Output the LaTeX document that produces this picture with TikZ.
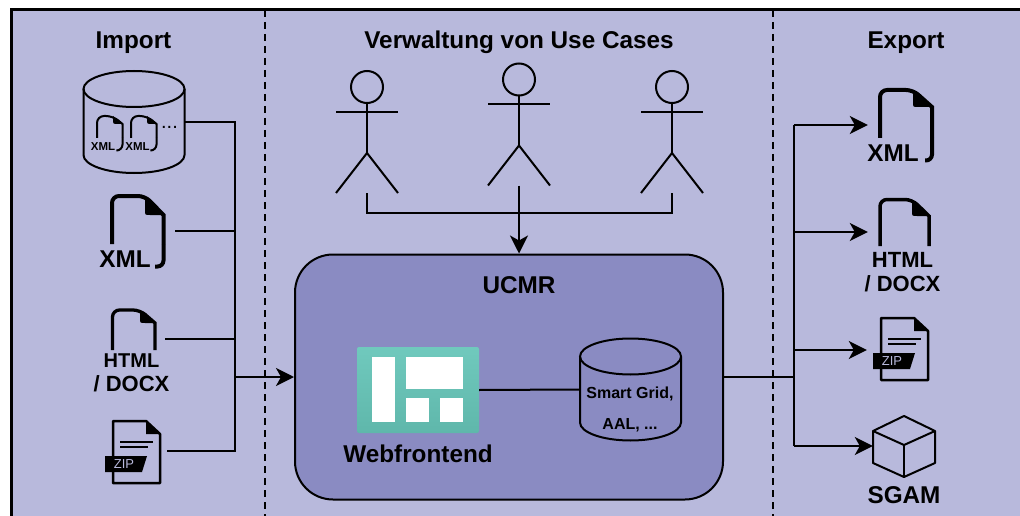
\documentclass[tikz,border=0pt]{standalone}
\usepackage{fontspec}
\setmainfont{Liberation Sans}
\usetikzlibrary{arrows.meta}
\definecolor{panelcol}{HTML}{B8B9DC}
\definecolor{corecol}{HTML}{8A8BC2}
\definecolor{tealtop}{HTML}{70C9BD}
\definecolor{tealbot}{HTML}{5FB7AB}
\tikzset{
  wire/.style={line width=2pt},
  arrowwire/.style={wire, -{Stealth[length=18pt,width=18pt,inset=5pt]}},
  divider/.style={line width=2pt, dash pattern=on 7pt off 5pt},
  iconbox/.style={inner sep=0pt, minimum height=60pt},
  titletext/.style={font=\fontsize{24.3}{28}\selectfont\bfseries, inner sep=0pt, text height=17pt, text depth=0pt},
  filetext/.style={font=\fontsize{22}{24}\selectfont\bfseries, inner sep=0pt, align=center},
}
\begin{document}
\begin{tikzpicture}[x=1pt, y=-1pt]
  \useasboundingbox (0,0) rectangle (1020,516);
  % Panel
  \fill[panelcol] (11,10) rectangle (1020,516);
  \draw[line width=3pt] (11,516) -- (11,10) -- (1020,10);
  \foreach \n/\x in {left/265, right/773} {
    \coordinate (top\n) at (\x,10);
    \coordinate (bot\n) at (\x,516);
    \draw[divider] (top\n) -- (bot\n);
  }
  % Titles
  \node[titletext] (importtitle) at (133.5,40) {Import};
  \node[titletext] (casetitle) at (519,40) {Verwaltung von Use Cases};
  \node[titletext] (exporttitle) at (906,40) {Export};
  % Actors
  \foreach \i/\x/\y in {1/367/87, 2/519/79.5, 3/672/87} {
    \node[circle, draw, wire, inner sep=0pt, minimum size=32pt] (head\i) at (\x,\y) {};
    \draw[wire] (head\i.south) -- ++(0,49) coordinate (hip\i);
    \draw[wire] (\x-31,\y+25) -- (\x+31,\y+25);
    \draw[wire] (\x-31,\y+106) -- (hip\i) -- (\x+31,\y+106);
    \coordinate (actor\i) at (\x,\y+106);
  }
  % Core
  \node[draw, wire, fill=corecol, rounded corners=38pt, minimum width=428pt, minimum height=245pt] (ucmr) at (509,377) {};
  \node[titletext] (ucmrtitle) at (519,285) {UCMR};
  \node[inner sep=0pt, rounded corners=2pt, top color=tealtop, bottom color=tealbot, minimum width=122pt, minimum height=86pt] (webicon) at (418,390) {};
  \fill[white] (372,357) rectangle (395,422);
  \fill[white] (406,357) rectangle (463,389);
  \fill[white] (406,398) rectangle (429,422);
  \fill[white] (439.5,398) rectangle (463,422);
  \node[titletext] (weblabel) at (418,454) {Webfrontend};
  % Databases
  \foreach \n/\x/\y in {griddb/630.5/389.5, filedb/134/122} {
    \node[inner sep=0pt, minimum width=101pt, minimum height=102pt] (\n) at (\x,\y) {};
    \draw[wire] (\x,\y-33) ellipse [x radius=50.5, y radius=18];
    \draw[wire] (\x-50.5,\y-33) -- (\x-50.5,\y+33) arc[start angle=180, end angle=0, x radius=50.5, y radius=18] -- (\x+50.5,\y-33);
  }
  \node[font=\fontsize{16}{31}\selectfont\bfseries, align=center, inner sep=0pt] (griddblabel) at (630,409) {Smart Grid,\\AAL, ...};
  \draw[wire] (webicon.east) -- (griddb.west);
  % Import icons
  \node[font=\fontsize{20}{22}\selectfont, inner sep=0pt] (dots) at (169.5,127) {...};
  \node[iconbox, minimum width=76pt] (xmlin) at (137,231) {};
  \node[iconbox, minimum width=72pt] (htmlin) at (129,339) {};
  \node[iconbox, minimum width=62pt] (zipin) at (136,451) {};
  \node[titletext] (xmlinlabel) at (125,259) {XML};
  \node[filetext] (htmlinlabel) at (131.5,373) {{\fontsize{20}{24}\selectfont HTML}\\/ DOCX};
  % Export icons
  \node[iconbox, minimum width=60pt] (xmlout) at (898,125) {};
  \node[iconbox, minimum width=60pt] (htmlout) at (898,232) {};
  \node[iconbox, minimum width=60pt] (zipout) at (897,350) {};
  \node[iconbox, minimum width=62pt] (cube) at (904,446) {};
  \node[titletext] (xmloutlabel) at (893,153) {XML};
  \node[filetext] (htmloutlabel) at (902.5,272) {HTML\\/ DOCX};
  \node[titletext] (cubelabel) at (904,495) {SGAM};
  % File sheets: left/top/fold/right/fold y/end/width
  \foreach \l/\t/\f/\r/\g/\e/\w in {112/196/145/163.5/215/244/4, 880/90/913/932/107/138/4,
      112.5/310/140/155/323/350/3.3, 880/199.5/912/929/216/246/3.5,
      97/116/113/122.5/124/138/2, 131/116/147/156.5/124/138/2} {
    \draw[line width=\w pt, rounded corners=7pt] (\l,\e) -- (\l,\t) -- (\f,\t) [sharp corners] -- (\r,\g) -- (\r,\e);
    \fill (\f,\t) -- (\r,\g) -- (\f+5,\g) .. controls (\f,\g) .. (\f,\g-5) -- cycle;
  }
  % Hooks of the XML sheets
  \foreach \r/\e/\b/\h/\w in {163.5/244/266.5/155/4, 932/138/160.5/925/4, 122.5/138/150.5/118/2, 156.5/138/150.5/152/2} {
    \draw[line width=\w pt, rounded corners=6pt] (\r,\e) -- (\r,\b) -- (\h,\b);
  }
  \foreach \x in {103,137.5} {
    \node[font=\fontsize{11.5}{12}\selectfont\bfseries, inner sep=0pt] at (\x,147) {XML};
  }
  % Zip sheets
  \foreach \n/\x/\y in {in/113/421, out/881/318} {
    \begin{scope}[shift={(\x,\y)}]
      \draw[line width=2.5pt, line join=round] (0,0) -- (33,0) -- (47,13) -- (47,62) -- (0,62) -- cycle;
      \fill (33,0) -- (47,13) -- (33,13) -- cycle;
      \draw[line width=2pt] (7,21) -- (40,21);
      \draw[line width=2pt] (7,26) -- (35,26);
      \fill (-8,35) -- (34,35) -- (29,51) -- (-8,51) -- cycle;
      \node[font=\fontsize{13}{14}\selectfont, text=panelcol, inner sep=0pt] (ziptext\n) at (11,43.5) {ZIP};
    \end{scope}
  }
  % Cube
  \draw[wire, line join=round] (873,431) -- (904,416) -- (935,431) -- (935,463) -- (904,477) -- (873,463) -- cycle;
  \draw[wire, line join=round] (873,431) -- (904,445) -- (935,431);
  \draw[wire] (904,445) -- (904,477);
  % Edges
  \coordinate (busin) at (235,377);
  \coordinate (busout) at (794,377);
  \draw[wire] (filedb.east) -| (busin);
  \draw[wire] (xmlin.east) -- (busin |- xmlin.east);
  \draw[wire] (htmlin.east) -- (busin |- htmlin.east);
  \draw[wire] (zipin.east) -| (busin);
  \draw[arrowwire] (busin) -- (ucmr.west);
  \draw[wire] (actor1) -- ++(0,20) -| (actor3);
  \draw[arrowwire] (actor2) -- (actor2 |- ucmr.north);
  \draw[wire] (ucmr.east) -- (busout);
  \foreach \n in {xmlout, htmlout, zipout, cube} {
    \draw[arrowwire] (busout |- \n.west) -- (\n.west);
  }
  \draw[wire] (busout |- xmlout.west) -- (busout |- cube.west);
\end{tikzpicture}
\end{document}
